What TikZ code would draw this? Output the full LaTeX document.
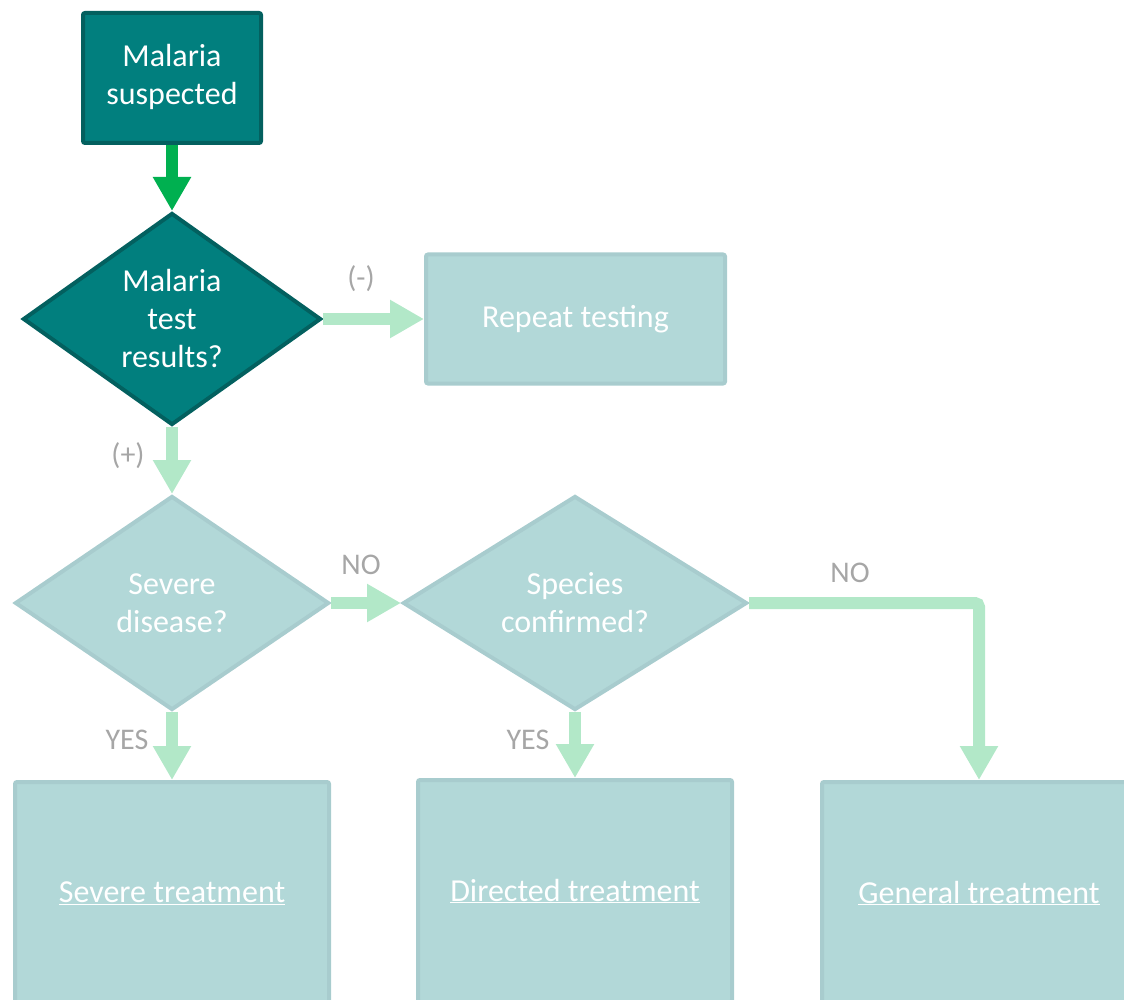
\documentclass[tikz,border=0pt]{standalone}
\usepackage{fontspec}
\setmainfont{Carlito}
\usetikzlibrary{arrows.meta,shapes.geometric}
\definecolor{darkteal}{HTML}{017F7E}
\definecolor{darkborder}{HTML}{03605F}
\definecolor{lightfill}{HTML}{B2D8D8}
\definecolor{lightborder}{HTML}{A8CCCE}
\definecolor{lightgreen}{HTML}{B2E8C8}
\definecolor{strongreen}{HTML}{00B050}
\definecolor{labelgray}{HTML}{A6A6A6}
\tikzset{
  maintext/.style={font=\fontsize{32}{38}\selectfont, text=white, align=center},
  darkbox/.style={maintext, rectangle, rounded corners=2pt, fill=darkteal, draw=darkborder, line width=4pt, inner sep=0pt},
  darkdia/.style={maintext, diamond, fill=darkteal, draw=darkborder, line width=4pt, inner sep=0pt},
  lightbox/.style={maintext, rectangle, rounded corners=2pt, fill=lightfill, draw=lightborder, line width=4pt, inner sep=0pt},
  lightdia/.style={maintext, diamond, fill=lightfill, draw=lightborder, line width=4pt, inner sep=0pt},
  greenarrow/.style={draw=strongreen, line width=12pt, -{Triangle[length=34pt,width=36pt]}},
  lightarrow/.style={draw=lightgreen, line width=12pt, -{Triangle[length=34pt,width=36pt]}},
  lbl/.style={font=\fontsize{30}{36}\selectfont, text=labelgray, inner sep=0pt}
}
\begin{document}
\begin{tikzpicture}[x=1pt,y=-1pt]
\useasboundingbox (0,0) rectangle (1124,1000);
\clip (0,0) rectangle (1124,1000);
% nodes
\node[darkbox, minimum width=178pt, minimum height=130pt] (suspect) at (172,78) {\raisebox{-3pt}{\begin{tabular}{@{}c@{}}Malaria\\suspected\end{tabular}}};
\node[darkdia, minimum width=298pt, minimum height=212pt] (test) at (172,319) {Malaria\\test\\results?};
\node[lightbox, minimum width=299pt, minimum height=129pt] (repeat) at (575.5,319) {Repeat testing};
\node[lightdia, minimum width=314pt, minimum height=214pt] (severe) at (172,603) {Severe\\disease?};
\node[lightdia, minimum width=344pt, minimum height=214pt] (species) at (575,603) {Species\\confirmed?};
\node[lightbox, minimum width=314pt, minimum height=222pt] (sevtreat) at (172,893) {\underline{Severe treatment}};
\node[lightbox, minimum width=314pt, minimum height=222pt] (dirtreat) at (575,891) {\underline{Directed treatment}};
\node[lightbox, minimum width=314pt, minimum height=222pt] (gentreat) at (979,893) {\underline{General treatment}};
% connectors
\draw[greenarrow] (suspect.south) -- (test.north);
\draw[lightarrow] (test.east) -- (repeat.west);
\draw[lightarrow] (test.south) -- (severe.north);
\draw[lightarrow] (severe.east) -- (species.west);
\draw[lightarrow] (severe.south) -- (sevtreat.north);
\draw[lightarrow] (species.south) -- (dirtreat.north);
\draw[lightarrow, rounded corners=4pt] (species.east) -| (gentreat.north);
% labels
\node[lbl] (lminus) at (361,279) {(-)};
\node[lbl] (lplus) at (128,456) {(+)};
\node[lbl] (lno1) at (361,565) {NO};
\node[lbl] (lno2) at (850,573) {NO};
\node[lbl] (lyes1) at (127,740) {YES};
\node[lbl] (lyes2) at (528,740) {YES};
\end{tikzpicture}
\end{document}
